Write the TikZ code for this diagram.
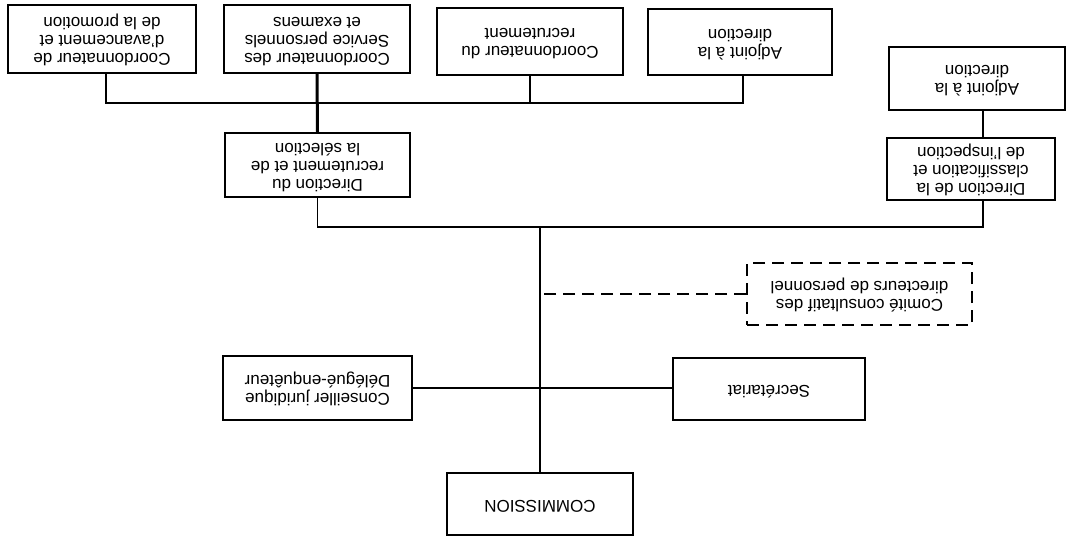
\documentclass[tikz,border=0pt]{standalone}
\usepackage{fontspec}
\usepackage{graphicx}
\setmainfont{Liberation Sans}
\newcommand\upside[1]{\rotatebox[origin=c]{180}{\begin{tabular}{@{}c@{}}#1\end{tabular}}}
\begin{document}
\begin{tikzpicture}[x=1pt,y=-1pt,
  box/.style={draw,line width=2pt,inner sep=0pt,minimum width=#1},
  box/.default=186pt,
  dbox/.style={box=#1,dashed,dash pattern=on 12pt off 7pt},
  conn/.style={line width=1.8pt},
  thin conn/.style={line width=1.1pt},
  thick conn/.style={line width=3pt},
  font=\fontsize{17}{18}\selectfont]
\useasboundingbox (0,0) rectangle (1068,540);
% top row
\node[box=188pt,minimum height=68pt] (A) at (102,39) {\upside{Coordonnateur de\\d'avancement et\\de la promotion}};
\node[box=186pt,minimum height=68pt] (B) at (317,39) {\upside{Coordonnateur des\\Service personnels\\et examens}};
\node[box=186pt,minimum height=67pt] (C) at (530,41.5) {\upside{Coordonnateur du\\recrutement}};
\node[box=184pt,minimum height=66pt] (D) at (740,42) {\upside{Adjoint à la\\direction}};
\node[box=176pt,minimum height=63pt] (E) at (977,78.5) {\upside{Adjoint à la\\direction}};
% directions
\node[box=185pt,minimum height=64pt] (R) at (317.5,165) {\upside{Direction du\\recrutement et de\\la sélection}};
\node[box=168pt,minimum height=62pt] (K) at (971,169) {\upside{Direction de la\\classification et\\de l'inspection}};
% committee
\node[dbox=225pt,minimum height=62pt] (M) at (859.5,294) {\upside{Comité consultatif des\\directeurs de personnel}};
\node[box=189pt,minimum height=64pt] (J) at (317.5,388) {\upside{Conseiller juridique\\Délégué-enquêteur}};
\node[box=192pt,minimum height=62pt] (S) at (769,389) {\upside{Secrétariat}};
\node[box=186pt,minimum height=62pt] (X) at (540,504) {\upside{COMMISSION}};
% coordinates
\coordinate (busL) at (106,103);
\coordinate (busR) at (743,103);
\coordinate (busC) at (530,103);
\coordinate (bus2R) at (983,227);
\coordinate (mainTop) at (540,227);
% connectors
\draw[conn] (A.south -| busL) -- (busL) -- (busR) -- (D.south -| busR);
\draw[thick conn] (B.south) -- (R.north);
\draw[thin conn] (C.south) -- (busC);
\draw[conn] (R.south) |- (bus2R) -- (K.south -| bus2R);
\draw[conn] (E.south -| bus2R) -- (K.north -| bus2R);
\draw[conn,line width=1.5pt] (mainTop) -- (X.north);
\draw[conn,line width=1.5pt,dashed,dash pattern=on 12pt off 7pt] (M.west) -- (M.west -| mainTop);
\draw[conn,line width=1.5pt] (J.east) -- (J.east -| S.west);
\end{tikzpicture}
\end{document}
